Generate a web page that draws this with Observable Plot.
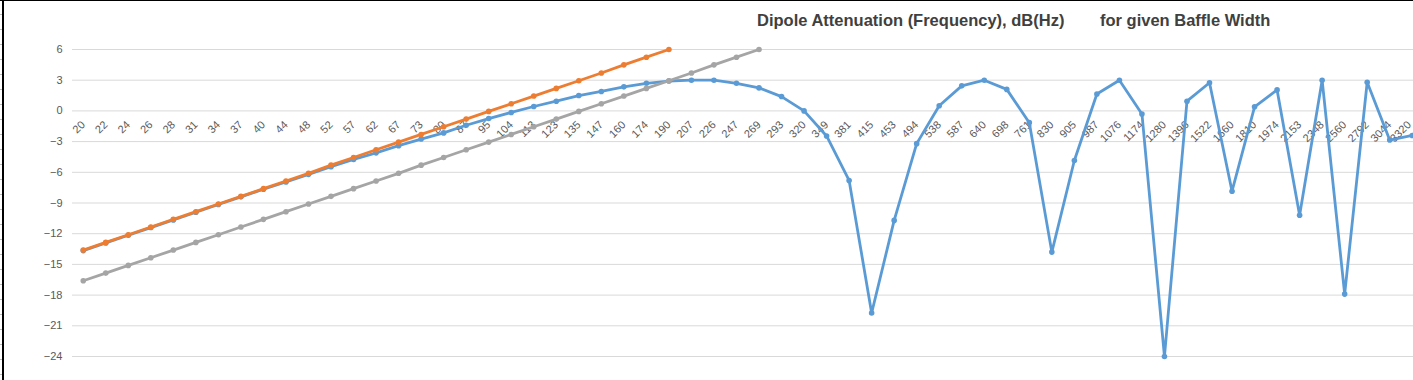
<!DOCTYPE html>
<html>
<head>
<meta charset="utf-8">
<script src="https://cdn.jsdelivr.net/npm/d3@7"></script>
<script src="https://cdn.jsdelivr.net/npm/@observablehq/plot@0.6"></script>
<style>
  html, body { margin: 0; padding: 0; background: #fff; overflow: hidden; }
  #wrap { position: relative; width: 1413px; height: 380px; overflow: hidden; }
  .title { position: absolute; top: 10px; font: bold 16.5px "Liberation Sans", Arial, sans-serif; color: #404040; white-space: nowrap; line-height: 20px; }
  #lborder { position: absolute; left: 2px; top: 0; width: 2px; height: 380px; background: #000; }
  #lmarks { position: absolute; left: 0; top: 0; width: 2px; height: 380px;
    background: repeating-linear-gradient(to bottom, transparent 0px, transparent 14px, #bbb 14px, #bbb 15px); }
  #tborder { position: absolute; left: 0; top: 0; width: 1413px; height: 1px; background: #000; }
</style>
</head>
<body>
<div id="wrap">
  <div id="chart"></div>
  <div class="title" id="t1" style="left:757px">Dipole Attenuation (Frequency), dB(Hz)</div>
  <div class="title" id="t2" style="left:1100px">for given Baffle Width</div>
  <div id="lmarks"></div>
  <div id="lborder"></div>
  <div id="tborder"></div>
</div>
<script>
// Categories (Hz)
const freqs = ["20","22","24","26","28","31","34","37","40","44","48","52","57","62","67","73","80","87","95","104",
  "113","123","135","147","160","174","190","207","226","247","269","293","320","349","381","415","453","494","538","587",
  "640","698","761","830","905","987","1076","1174","1280","1396","1522","1660","1810","1974","2153","2348","2560","2792","3044","3320"];

// Series 1: dipole attenuation (blue)
const dipole = [-13.65,-12.9,-12.15,-11.4,-10.65,-9.9,-9.15,-8.4,-7.65,-6.95,-6.2,-5.45,-4.75,-4.1,-3.4,-2.75,-2.15,-1.4,-0.75,-0.15,
  0.43,0.95,1.5,1.9,2.35,2.7,2.92,3.0,3.0,2.7,2.25,1.4,0.0,-2.45,-6.8,-19.75,-10.7,-3.2,0.5,2.45,
  3.0,2.1,-1.15,-13.8,-4.85,1.65,3.0,-0.3,-24,0.95,2.75,-7.85,0.4,2.05,-10.2,3.0,-17.9,2.8,-2.85,-2.4];

// Series 2: +6 dB/oct slope (orange), 20..190 Hz
const slopeA = [-13.6,-12.85,-12.1,-11.35,-10.6,-9.85,-9.1,-8.35,-7.6,-6.85,-6.1,-5.3,-4.55,-3.8,-3.05,-2.3,-1.55,-0.8,-0.05,0.7,
  1.45,2.2,2.95,3.7,4.5,5.25,6.0];

// Series 3: +6 dB/oct slope, -3 dB (grey), 20..269 Hz
const slopeB = [-16.6,-15.85,-15.1,-14.35,-13.6,-12.85,-12.1,-11.35,-10.6,-9.85,-9.1,-8.35,-7.6,-6.85,-6.1,-5.3,-4.55,-3.8,-3.05,-2.3,
  -1.55,-0.8,-0.05,0.7,1.45,2.2,2.95,3.7,4.5,5.25,6.0];

const yTicks = [6,3,0,-3,-6,-9,-12,-15,-18,-21,-24];
const xAxisAt = 0;

const seriesDefs = [
  {name: "dipole", values: dipole, color: "#5B9BD5"},
  {name: "slopeA", values: slopeA, color: "#ED7D31"},
  {name: "slopeB", values: slopeB, color: "#A5A5A5"}
];

const seriesMarks = seriesDefs.flatMap(s => {
  const rows = s.values.map((v, i) => ({f: freqs[i], v}));
  return [
    Plot.line(rows, {x: "f", y: "v", stroke: s.color, strokeWidth: 2.8, strokeLinejoin: "round", strokeLinecap: "round"}),
    Plot.dot(rows, {x: "f", y: "v", fill: s.color, r: 2.8, stroke: "none"})
  ];
});

const labelOpts = {x: d => d, y: () => xAxisAt, text: d => d, rotate: -45, textAnchor: "end", dy: 12, fill: "#595959", fontSize: 11};
const lastLabel = freqs.slice(-1);

const chart = Plot.plot({
  width: 1413,
  height: 380,
  marginLeft: 72,
  marginRight: 0,
  marginTop: 49,
  marginBottom: 24,
  x: {type: "point", domain: freqs, range: [71.5, 1423], round: false, padding: 0.5, axis: null},
  y: {domain: [-24, 6], label: null},
  style: {fontFamily: "'Liberation Sans', Arial, sans-serif", fontSize: "11px", color: "#595959", background: "white"},
  marks: [
    Plot.gridY(yTicks, {stroke: "#d9d9d9", strokeOpacity: 1, strokeWidth: 1}),
    Plot.axisY(yTicks, {tickSize: 0, tickPadding: 10, label: null, fill: "#595959", fontSize: 11}),
    Plot.text(freqs.slice(0, -1), {...labelOpts, dx: 0}),
    Plot.text(lastLabel, {...labelOpts, dx: -3}),
    ...seriesMarks
  ]
});
document.getElementById("chart").appendChild(chart);
</script>
</body>
</html>
